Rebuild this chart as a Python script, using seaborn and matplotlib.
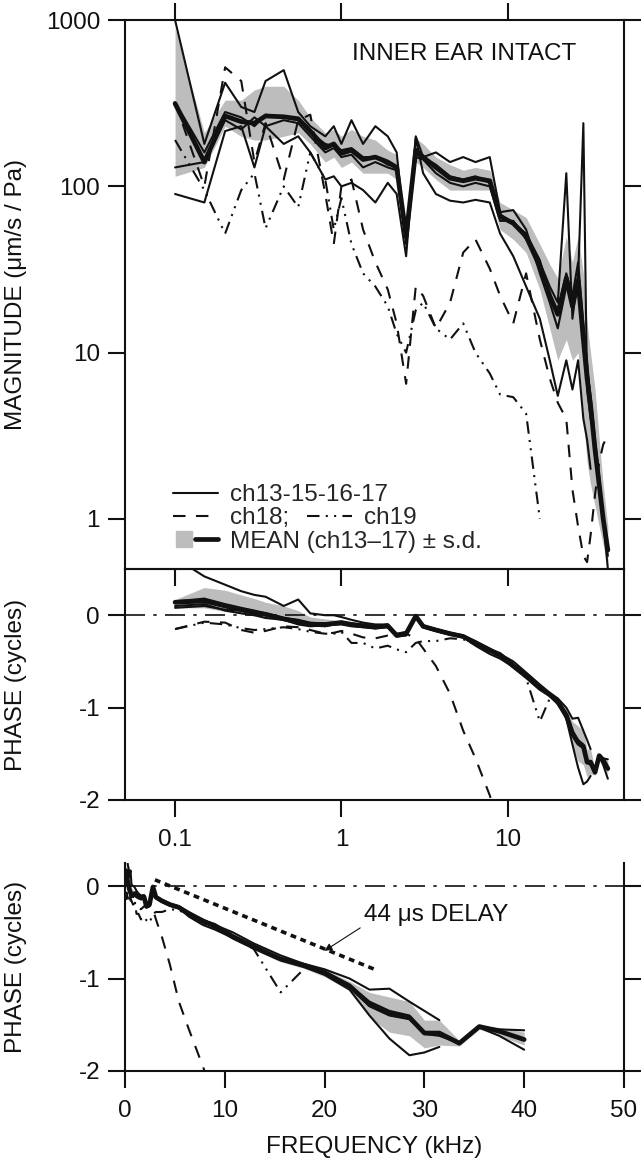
import numpy as np
import matplotlib
matplotlib.use("Agg")
import matplotlib.pyplot as plt
import seaborn as sns
from matplotlib.lines import Line2D
from matplotlib.legend_handler import HandlerTuple
from matplotlib.ticker import FixedLocator, LogLocator, MultipleLocator, NullFormatter, FuncFormatter

nan = np.nan

# ---- data ----
freq = [0.1, 0.15, 0.2, 0.25, 0.3, 0.35, 0.45, 0.55, 0.65, 0.8,
        0.9, 1.0, 1.15, 1.35, 1.6, 1.9, 2.15, 2.45, 2.8, 3.1,
        3.7, 4.5, 5.4, 6.4, 7.8, 9.0, 10.8, 12.9, 15.6, 17.9,
        20.0, 22.5, 24.5, 26.5, 28.5, 30.0, 31.5, 33.5, 35.5, 37.5,
        40.0]

# magnitude (um/s / Pa)
mag_mean = [315, 140, 265, 245, 240, 265, 262, 255, 215, 170,
            180, 158, 165, 145, 150, 140, 130, 50, 165, 150,
            130, 112, 108, 112, 108, 66, 60, 50, 33, 22,
            17, 28, 19, 27, 12, 7, 4.8, 2.6, 1.6, 1.0,
            0.65]
mag_lo = [115, 130, 230, 200, 190, 190, 200, 210, 180, 140,
          150, 130, 140, 120, 120, 120, 110, 40, 140, 130,
          110, 95, 95, 95, 95, 55, 48, 40, 24, 14,
          9, 12, 9, 10, 4, 2.2, 1.6, 1.2, 0.9, 0.7,
          0.5]
mag_hi = [900, 210, 330, 330, 380, 400, 400, 330, 260, 210,
          220, 200, 220, 200, 190, 165, 155, 62, 195, 180,
          150, 135, 125, 130, 125, 80, 72, 65, 45, 34,
          28, 50, 35, 50, 30, 15, 10, 6, 3, 1.6,
          0.9]
mag_ch13 = [1000, 180, 420, 300, 280, 430, 500, 280, 230, 200,
            230, 180, 250, 180, 230, 200, 160, 45, 200, 150,
            160, 140, 150, 140, 150, 70, 72, 55, 30, 20,
            14, 25, 20, 28, 240, 6, 4, nan, nan, nan, nan]
mag_ch15 = [90, 80, 215, 230, 130, 230, 180, 200, 160, 110,
            115, 100, 105, 95, 80, 105, 90, 38, 195, 120,
            90, 82, 80, 83, 80, 52, 38, 25, 16, 9,
            5.5, 9, 6, 9, 4, 3, 2, nan, nan, nan, nan]
mag_ch16 = [130, 140, 250, 220, 260, 230, 250, 240, 200, 160,
            170, 150, 155, 130, 140, 130, 125, 55, 150, 145,
            120, 105, 100, 105, 100, 62, 62, 48, 35, 25,
            20, 120, 16, 30, 14, 9, 5, 2.5, 1.5, 1.0, 0.6]
mag_ch17 = [320, 160, 280, 260, 230, 270, 260, 250, 210, 180,
            175, 165, 170, 150, 150, 135, 130, 48, 155, 150,
            135, 115, 110, 115, 105, 68, 60, 52, 36, 22,
            18, 30, 22, 35, 15, 8, 5.5, 3, 1.8, 1.0, 0.5]
mag_ch18 = [320, 100, 520, 430, 140, 240, 110, 250, 270, 90,
            45, 100, 110, 55, 35, 24, 15, 6.5, 25, 22,
            14, 20, 40, 48, 32, 22, 15, 30, 12, 7,
            5, 4, 1.5, 0.9, 0.6, 0.55, 0.8, 1.4, 2.2, 2.8, 3.2]
mag_ch19 = [190, 95, 52, 95, 120, 56, 100, 75, 160, 110,
            55, 85, 45, 30, 25, 19, 13, 10, 18, 20,
            14, 12, 15, 10, 7.5, 5.6, 5.4, 4.3, 1.0, nan,
            nan, nan, nan, nan, nan, nan, nan, nan, nan, nan, nan]

# phase (cycles)
ph_mean = [0.14, 0.155, 0.1, 0.06, 0.03, 0.01, -0.04, -0.07, -0.1, -0.1,
           -0.09, -0.08, -0.1, -0.115, -0.13, -0.115, -0.22, -0.2, -0.01, -0.12,
           -0.16, -0.2, -0.23, -0.3, -0.38, -0.43, -0.55, -0.66, -0.79, -0.86,
           -0.94, -1.08, -1.28, -1.38, -1.42, -1.59, -1.59, -1.70, -1.52, -1.57,
           -1.66]
ph_hi = [0.17, 0.3, 0.27, 0.22, 0.18, 0.14, 0.1, 0.05, -0.02, -0.04,
         -0.05, -0.05, -0.07, -0.09, -0.1, -0.1, -0.2, -0.18, 0.0, -0.1,
         -0.14, -0.18, -0.21, -0.28, -0.35, -0.4, -0.52, -0.63, -0.76, -0.83,
         -0.9, -1.03, -1.15, -1.2, -1.25, -1.45, -1.45, -1.67, -1.49, -1.53,
         -1.58]
ph_lo = [0.08, 0.08, 0.04, 0.02, -0.01, -0.03, -0.06, -0.1, -0.12, -0.12,
         -0.11, -0.1, -0.12, -0.13, -0.15, -0.13, -0.23, -0.22, -0.02, -0.14,
         -0.18, -0.22, -0.25, -0.32, -0.41, -0.46, -0.58, -0.69, -0.82, -0.89,
         -0.98, -1.13, -1.42, -1.58, -1.62, -1.75, -1.72, -1.73, -1.55, -1.62,
         -1.72]
ph_ch13 = [0.62, 0.42, 0.33, 0.26, 0.22, 0.2, 0.1, 0.17, 0.02, 0.0,
           0.0, -0.02, -0.05, -0.08, -0.1, -0.1, -0.2, -0.18, 0.0, -0.12,
           -0.15, -0.19, -0.22, -0.28, -0.36, -0.42, -0.5, -0.62, -0.75, -0.84,
           -0.9, -1.0, -1.12, -1.11, -1.25, -1.35, -1.45, nan, nan, nan, nan]
ph_ch15 = [0.1, 0.12, 0.05, 0.02, 0.0, -0.03, -0.05, -0.1, -0.12, -0.11,
           -0.1, -0.09, -0.11, -0.12, -0.14, -0.12, -0.23, -0.22, -0.01, -0.13,
           -0.17, -0.21, -0.24, -0.33, -0.42, -0.47, -0.56, -0.67, -0.8, -0.87,
           -0.96, -1.12, -1.4, -1.65, -1.83, -1.8, -1.74, nan, nan, nan, nan]
ph_ch16 = [0.15, 0.18, 0.12, 0.08, 0.05, 0.02, -0.03, -0.05, -0.08, -0.09,
           -0.08, -0.07, -0.09, -0.1, -0.12, -0.1, -0.21, -0.2, 0.0, -0.11,
           -0.15, -0.19, -0.22, -0.3, -0.37, -0.41, -0.53, -0.64, -0.78, -0.84,
           -0.92, -1.07, -1.25, -1.35, -1.4, -1.6, -1.62, -1.7, -1.52, -1.55,
           -1.56]
ph_ch17 = [0.08, 0.1, 0.06, 0.05, 0.02, 0.0, -0.05, -0.09, -0.11, -0.12,
           -0.1, -0.1, -0.12, -0.13, -0.14, -0.13, -0.22, -0.2, -0.02, -0.13,
           -0.17, -0.21, -0.24, -0.3, -0.38, -0.45, -0.55, -0.67, -0.79, -0.87,
           -0.95, -1.08, -1.3, -1.4, -1.44, -1.6, -1.58, -1.71, -1.53, -1.62,
           -1.77]
ph_ch18 = [-0.15, -0.07, -0.08, -0.16, -0.19, -0.17, -0.12, -0.13, -0.16, -0.2,
           -0.19, -0.17, -0.2, -0.24, -0.25, -0.22, -0.22, -0.2, -0.25, -0.36,
           -0.55, -0.85, -1.25, -1.55, -1.95, -2.3, nan, nan, nan, nan,
           nan, nan, nan, nan, nan, nan, nan, nan, nan, nan, nan]
ph_ch19 = [-0.15, -0.08, -0.1, -0.14, -0.16, -0.15, -0.13, -0.15, -0.18, -0.2,
           -0.2, -0.18, -0.3, -0.3, -0.36, -0.33, -0.37, -0.4, -0.3, -0.28,
           -0.28, -0.25, -0.26, -0.32, -0.4, -0.45, -0.55, -0.68, -1.15, -0.9,
           nan, nan, nan, nan, nan, nan, nan, nan, nan, nan, nan]

# 44 us delay line
delay_us = 44
delay_f = [3.0, 25.0]
delay_offset = 0.2

# ---- style ----
sns.set_theme(style="white")
plt.rcParams['font.family'] = ['Liberation Sans', 'DejaVu Sans']
FS = 17.5
INK = "#111111"
GREY = "#bdbdbd"
SOLID = "-"
DASH = (0, (6, 5))
DASHDOTDOT = (0, (6, 3, 1, 3, 1, 3))
ZERO = (0, (12, 5, 2, 5))
YLAB_X = -0.196

fig = plt.figure(figsize=(6.44, 11.67), dpi=100)
ax1 = fig.add_axes([0.1941, 0.5124, 0.7748, 0.4704], zorder=3)
ax2 = fig.add_axes([0.1941, 0.3145, 0.7748, 0.1979], zorder=2)
ax3 = fig.add_axes([0.1941, 0.0823, 0.7748, 0.1782], zorder=1)
for ax in (ax1, ax2, ax3):
    ax.patch.set_alpha(0)
    for sp in ax.spines.values():
        sp.set_color(INK)
        sp.set_linewidth(1.5)
    ax.tick_params(which='major', direction='out', length=12, width=1.5,
                   color=INK, labelsize=FS, labelcolor=INK)
    ax.tick_params(which='minor', direction='out', length=6.5, width=1.5, color=INK)
    ax.tick_params(axis='y', which='major', pad=6)
    ax.tick_params(axis='x', which='major', pad=9)


def draw(ax, x, y, ls, lw):
    sns.lineplot(x=x, y=y, ax=ax, color=INK, linewidth=lw, linestyle=ls,
                 sort=False, estimator=None, legend=False)


singles = [mag_ch13, mag_ch15, mag_ch16, mag_ch17]
singles_ph = [ph_ch13, ph_ch15, ph_ch16, ph_ch17]

# ---- magnitude ----
ax1.set_xscale('log')
ax1.set_yscale('log')
ax1.fill_between(freq, mag_lo, mag_hi, color=GREY, lw=0)
for m in singles:
    draw(ax1, freq, m, SOLID, 1.5)
draw(ax1, freq, mag_ch18, DASH, 1.5)
draw(ax1, freq, mag_ch19, DASHDOTDOT, 1.5)
draw(ax1, freq, mag_mean, SOLID, 3.4)
ax1.set_xlim(0.05, 50)
ax1.set_ylim(0.5, 1000)
ax1.yaxis.set_major_locator(FixedLocator([1, 10, 100, 1000]))
ax1.yaxis.set_major_formatter(FuncFormatter(lambda v, p: f"{v:g}"))
ax1.yaxis.set_minor_locator(LogLocator(base=10, subs=np.arange(2, 10)))
ax1.yaxis.set_minor_formatter(NullFormatter())
ax1.tick_params(top=True, bottom=True, left=True, right=True, labelbottom=False)
ax1.set_xlabel("")
ax1.set_ylabel("MAGNITUDE (\u03bcm/s / Pa)", fontsize=FS, color=INK)
ax1.yaxis.set_label_coords(YLAB_X, 0.5)
ax1.text(0.904, 0.939, "INNER EAR INTACT", transform=ax1.transAxes,
         ha='right', va='center', fontsize=FS, color=INK)

h_solid = Line2D([], [], color=INK, lw=1.5, linestyle=SOLID)
h_dash = Line2D([], [], color=INK, lw=1.5, linestyle=DASH)
h_ddd = Line2D([], [], color=INK, lw=1.5, linestyle=DASHDOTDOT)
h_box = Line2D([], [], color=GREY, marker='s', markersize=11, linestyle='none')
h_mean = Line2D([], [], color=INK, lw=3.4)
leg1 = ax1.legend([h_solid, h_dash, (h_box, h_mean)],
                  ["ch13-15-16-17", "ch18;", "MEAN (ch13\u201317) \u00b1 s.d."],
                  handler_map={tuple: HandlerTuple(ndivide=None, pad=0)},
                  loc='lower left', bbox_to_anchor=(0.096, 0.03),
                  frameon=False, borderpad=0, borderaxespad=0,
                  handlelength=1.85, handletextpad=0.5, labelspacing=0.05,
                  fontsize=FS)
ax1.add_artist(leg1)

# put ch19 on the same row as ch18
fig.canvas.draw()
bb = leg1.get_texts()[1].get_window_extent()
row_y = ax1.transAxes.inverted().transform((0, (bb.y0 + bb.y1) / 2))[1]
ax1.legend([h_ddd], ["ch19"], loc='center left', bbox_to_anchor=(0.365, row_y),
           frameon=False, borderpad=0, borderaxespad=0,
           handlelength=1.85, handletextpad=0.5, fontsize=FS)

# ---- phase, log frequency ----
ax2.set_xscale('log')
ax2.axhline(0, color=INK, lw=1.2, linestyle=ZERO)
ax2.fill_between(freq, ph_lo, ph_hi, color=GREY, lw=0)
for p in singles_ph:
    draw(ax2, freq, p, SOLID, 1.5)
draw(ax2, freq, ph_ch18, DASH, 1.5)
draw(ax2, freq, ph_ch19, DASHDOTDOT, 1.5)
draw(ax2, freq, ph_mean, SOLID, 3.4)
ax2.set_xlim(0.05, 50)
ax2.set_ylim(-2, 0.5)
ax2.xaxis.set_major_locator(FixedLocator([0.1, 1, 10]))
ax2.xaxis.set_major_formatter(FuncFormatter(lambda v, p: f"{v:g}"))
ax2.xaxis.set_minor_locator(LogLocator(base=10, subs=np.arange(2, 10)))
ax2.xaxis.set_minor_formatter(NullFormatter())
ax2.yaxis.set_major_locator(FixedLocator([0, -1, -2]))
ax2.yaxis.set_major_formatter(FuncFormatter(lambda v, p: f"{v:g}"))
ax2.yaxis.set_minor_locator(MultipleLocator(0.25))
ax2.tick_params(top=False, bottom=True, left=True, right=True)
ax2.set_xlabel("")
ax2.set_ylabel("PHASE (cycles)", fontsize=FS, color=INK)
ax2.yaxis.set_label_coords(YLAB_X, 0.5)

# ---- phase, linear frequency ----
ax3.axhline(0, color=INK, lw=1.2, linestyle=ZERO)
ax3.fill_between(freq, ph_lo, ph_hi, color=GREY, lw=0)
for p in singles_ph:
    draw(ax3, freq, p, SOLID, 1.5)
draw(ax3, freq, ph_ch18, DASH, 1.5)
draw(ax3, freq, ph_ch19, DASHDOTDOT, 1.5)
draw(ax3, freq, ph_mean, SOLID, 3.4)
delay_ph = [delay_offset - f * delay_us / 1000 for f in delay_f]
draw(ax3, delay_f, delay_ph, (0, (1.6, 1.3)), 2.6)
ax3.annotate("44 \u03bcs DELAY", xy=(20, -0.70), xytext=(23.9, -0.31),
             ha='left', va='center', fontsize=FS, color=INK,
             arrowprops=dict(arrowstyle='-|>', color=INK, lw=0.8, relpos=(0, 0),
                             shrinkA=0, shrinkB=0, mutation_scale=11))
ax3.set_xlim(0, 50)
ax3.set_ylim(-2, 0.25)
ax3.xaxis.set_major_locator(MultipleLocator(10))
ax3.xaxis.set_minor_locator(MultipleLocator(5))
ax3.yaxis.set_major_locator(FixedLocator([0, -1, -2]))
ax3.yaxis.set_major_formatter(FuncFormatter(lambda v, p: f"{v:g}"))
ax3.yaxis.set_minor_locator(MultipleLocator(0.25))
ax3.spines['top'].set_visible(False)
ax3.tick_params(top=False, bottom=True, left=True, right=True)
ax3.set_ylabel("PHASE (cycles)", fontsize=FS, color=INK)
ax3.yaxis.set_label_coords(YLAB_X, 0.5)
ax3.set_xlabel("FREQUENCY (kHz)", fontsize=FS, color=INK)
ax3.xaxis.set_label_coords(0.5, -0.3125)

fig.savefig("out.png", dpi=100)
